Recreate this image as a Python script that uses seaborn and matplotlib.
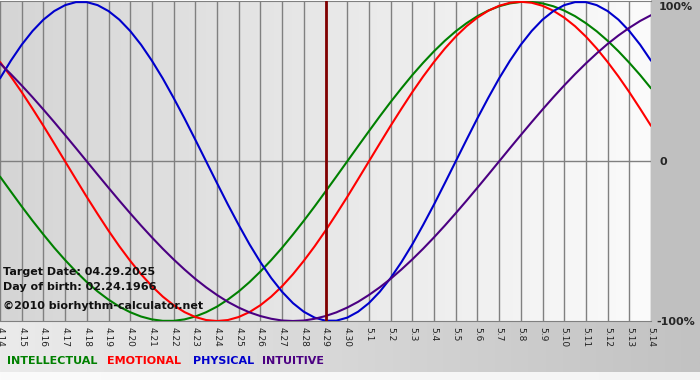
import numpy as np
import pandas as pd
import matplotlib
matplotlib.use("Agg")
import matplotlib.pyplot as plt
import seaborn as sns

# ---- data ----
days = ["4.14", "4.15", "4.16", "4.17", "4.18", "4.19", "4.20", "4.21", "4.22",
        "4.23", "4.24", "4.25", "4.26", "4.27", "4.28", "4.29", "4.30",
        "5.1", "5.2", "5.3", "5.4", "5.5", "5.6", "5.7", "5.8", "5.9",
        "5.10", "5.11", "5.12", "5.13", "5.14"]

# values every half day from 4.14 to 5.14 (-1 .. 1)
physical = [0.520, 0.631, 0.731, 0.817, 0.888, 0.942, 0.979, 0.998, 0.998, 0.979,
            0.942, 0.888, 0.817, 0.731, 0.631, 0.520, 0.398, 0.270, 0.136,
            0.000, -0.136, -0.270, -0.398, -0.520, -0.631, -0.731, -0.817, -0.888,
            -0.942, -0.979, -0.998, -0.998, -0.979, -0.942, -0.888, -0.817, -0.731,
            -0.631, -0.520, -0.398, -0.270, -0.136,
            0.000, 0.136, 0.270, 0.398, 0.520, 0.631, 0.731, 0.817, 0.888, 0.942,
            0.979, 0.998, 0.998, 0.979, 0.942, 0.888, 0.817, 0.731, 0.631]
emotional = [0.623, 0.532, 0.434, 0.330, 0.223, 0.112,
             0.000, -0.112, -0.223, -0.330, -0.434, -0.532, -0.623, -0.707, -0.782,
             -0.847, -0.901, -0.944, -0.975, -0.994, -1.000, -0.994, -0.975, -0.944,
             -0.901, -0.847, -0.782, -0.707, -0.623, -0.532, -0.434, -0.330, -0.223,
             -0.112,
             0.000, 0.112, 0.223, 0.330, 0.434, 0.532, 0.623, 0.707, 0.782, 0.847,
             0.901, 0.944, 0.975, 0.994, 1.000, 0.994, 0.975, 0.944, 0.901, 0.847,
             0.782, 0.707, 0.623, 0.532, 0.434, 0.330, 0.223]
intellectual = [-0.095, -0.189, -0.282, -0.372, -0.458, -0.541, -0.618, -0.690,
                -0.756, -0.815, -0.866, -0.910, -0.945, -0.972, -0.990, -0.999,
                -0.999, -0.990, -0.972, -0.945, -0.910, -0.866, -0.815, -0.756,
                -0.690, -0.618, -0.541, -0.458, -0.372, -0.282, -0.189, -0.095,
                0.000, 0.095, 0.189, 0.282, 0.372, 0.458, 0.541, 0.618, 0.690, 0.756,
                0.815, 0.866, 0.910, 0.945, 0.972, 0.990, 0.999, 0.999, 0.990, 0.972,
                0.945, 0.910, 0.866, 0.815, 0.756, 0.690, 0.618, 0.541, 0.458]
intuitive = [0.614, 0.547, 0.476, 0.402, 0.325, 0.246, 0.165, 0.083,
             0.000, -0.083, -0.165, -0.246, -0.325, -0.402, -0.476, -0.547, -0.614,
             -0.677, -0.736, -0.789, -0.837, -0.880, -0.916, -0.946, -0.969, -0.986,
             -0.997, -1.000, -0.997, -0.986, -0.969, -0.946, -0.916, -0.880, -0.837,
             -0.789, -0.736, -0.677, -0.614, -0.547, -0.476, -0.402, -0.325, -0.246,
             -0.165, -0.083,
             0.000, 0.083, 0.165, 0.246, 0.325, 0.402, 0.476, 0.547, 0.614, 0.677,
             0.736, 0.789, 0.837, 0.880, 0.916]

target_day = "4.29"
series_names = ["INTELLECTUAL", "EMOTIONAL", "PHYSICAL", "INTUITIVE"]
colors = {"INTELLECTUAL": "#008000", "EMOTIONAL": "#ff0000",
          "PHYSICAL": "#0000cc", "INTUITIVE": "#4b0082"}

half_days = np.arange(len(physical)) / 2
rows = []
for name, vals in zip(series_names, [intellectual, emotional, physical, intuitive]):
    for x, v in zip(half_days, vals):
        rows.append({"day": x, "value": v, "cycle": name})
df = pd.DataFrame(rows)

sns.set_style("white")
plt.rcParams["font.family"] = ["DejaVu Sans"]

fig = plt.figure(figsize=(7, 3.8), dpi=100)

# ---- figure background ----
bg = fig.add_axes([0, 0, 1, 1], zorder=-10)
bg.set_xlim(0, 700)
bg.set_ylim(380, 0)
bg.axis("off")
grad = np.linspace(0, 1, 256).reshape(1, -1)
bg.imshow(grad, extent=[0, 700, 372, 321], aspect="auto",
          cmap=matplotlib.colors.LinearSegmentedColormap.from_list("b", ["#ebebeb", "#c2c2c2"]))
bg.imshow(grad, extent=[0, 700, 380, 372], aspect="auto",
          cmap=matplotlib.colors.LinearSegmentedColormap.from_list("w", ["#fbfbfb", "#f4f4f4"]))
bg.add_patch(plt.Rectangle((651, 0), 49, 321, color="#c0c0c0", lw=0))

# ---- main plot ----
ax = fig.add_axes([0, 59 / 380, 651 / 700, 320 / 380])
ax.imshow(grad, extent=[0, 30, -1.0, 1.0], aspect="auto", zorder=0,
          cmap=matplotlib.colors.LinearSegmentedColormap.from_list("a", ["#d5d5d5", "#fbfbfb"]))

sns.lineplot(data=df, x="day", y="value", hue="cycle", palette=colors,
             hue_order=series_names, linewidth=1.5, legend=False, ax=ax, zorder=3)

ax.axvline(days.index(target_day), color="#800000", lw=2, zorder=4)
ax.axhline(0, color="#808080", lw=1, zorder=1)

ax.set_xlim(0, 30)
ax.set_ylim(-1.0, 1.005)
ax.set_xticks(range(len(days)))
ax.set_xticklabels(days, rotation=-90, fontsize=6.5, color="#222222")
ax.set_yticks([])
ax.grid(axis="x", color="#808080", lw=1, zorder=1)
ax.set_axisbelow(False)
ax.tick_params(axis="x", length=3, width=1, color="#808080", pad=1)
for s in ["left", "right"]:
    ax.spines[s].set_visible(False)
ax.spines["top"].set_color("#808080")
ax.spines["bottom"].set_color("#808080")
ax.set_xlabel("")
ax.set_ylabel("")

# ---- text ----
fig.text(3 / 700, 1 - 272 / 380, "Target Date: 04.29.2025", fontsize=8,
         fontweight="bold", color="#111111", va="center")
fig.text(3 / 700, 1 - 287 / 380, "Day of birth: 02.24.1966", fontsize=8,
         fontweight="bold", color="#111111", va="center")
fig.text(3 / 700, 1 - 306 / 380, "\u00a92010 biorhythm-calculator.net", fontsize=8,
         fontweight="bold", color="#111111", va="center")

fig.text(659 / 700, 1 - 7 / 380, "100%", fontsize=8, fontweight="bold", va="center")
fig.text(659 / 700, 1 - 162 / 380, "0", fontsize=8, fontweight="bold", va="center")
fig.text(656 / 700, 1 - 322 / 380, "-100%", fontsize=8, fontweight="bold", va="center")

legend_x = [7, 107, 193, 262]
for name, lx in zip(series_names, legend_x):
    fig.text(lx / 700, 1 - 361 / 380, name, fontsize=8, fontweight="bold",
             color=colors[name], va="center")

fig.savefig("out.png", dpi=100)
